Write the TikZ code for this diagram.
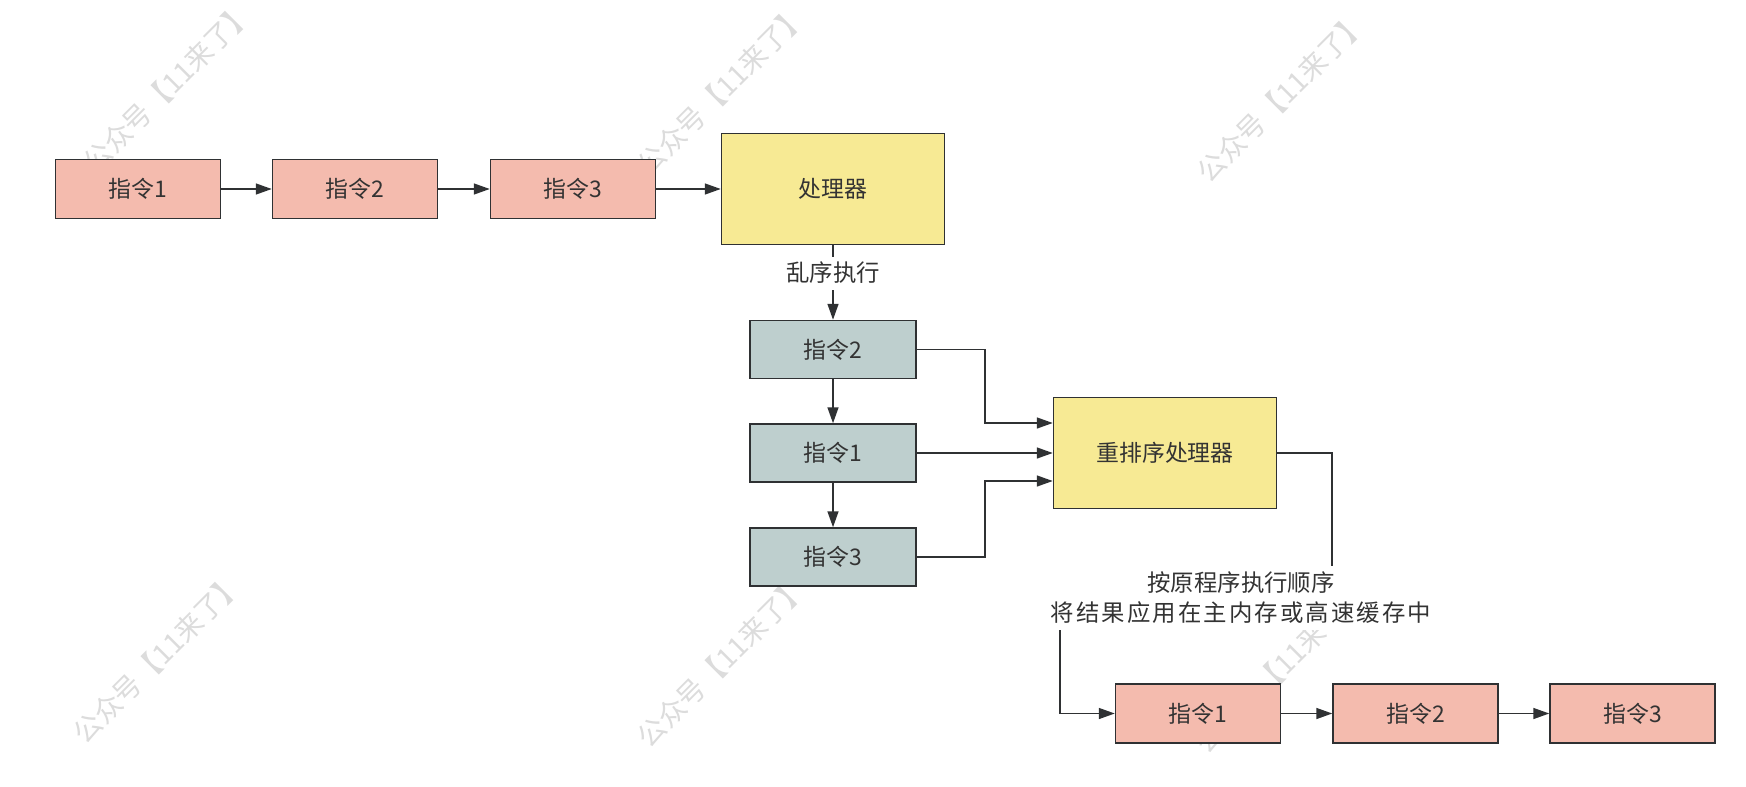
\documentclass[tikz,border=0pt]{standalone}
\usepackage{fontspec}
\newfontfamily\cjk{Noto Sans CJK SC}
\newfontfamily\cjkwide[LetterSpace=9]{Noto Sans CJK SC}
\usetikzlibrary{arrows.meta,calc}
\definecolor{pinkf}{HTML}{F4BBAE}
\definecolor{yellowf}{HTML}{F7EA94}
\definecolor{grayf}{HTML}{BECFCE}
\definecolor{bord}{HTML}{2F3133}
\definecolor{txt}{HTML}{333333}
\definecolor{wmc}{HTML}{DCDCDC}
\tikzset{
  box/.style={draw=bord, line width=1.5bp, minimum width=165bp, minimum height=59bp,
    inner sep=0pt, font=\cjk\fontsize{23}{28}\selectfont, text=txt},
  pinkbox/.style={box, fill=pinkf},
  graybox/.style={box, fill=grayf, minimum width=166bp, minimum height=58bp},
  cpubox/.style={box, fill=yellowf, minimum width=223bp, minimum height=111bp},
  arr/.style={draw=bord, line width=1.5bp, -{Triangle[length=16bp,width=11bp]}},
  lbl/.style={fill=white, text=txt, font=\cjk\fontsize{23.5}{30}\selectfont, align=center},
  wm/.style={text=wmc, font=\cjk\fontsize{28}{30}\selectfont, rotate=45, inner sep=0pt}
}
\begin{document}
\begin{tikzpicture}[x=1bp,y=-1bp]
\useasboundingbox (0,0) rectangle (1746,787);
\fill[white] (0,0) rectangle (1746,787);
% watermarks
\foreach \i/\x/\y in {1/168/87, 2/722/90, 3/1282/97, 4/158/658, 5/722/662, 6/1280/668}
  \node[wm] (wm\i) at (\x,\y) {公众号【11来了】};
% top row
\node[pinkbox] (t1) at (138,189) {指令1};
\node[pinkbox] (t2) at (355,189) {指令2};
\node[pinkbox] (t3) at (573,189) {指令3};
\node[cpubox] (cpu) at (833,189) {处理器};
% middle column
\node[graybox] (m2) at (833,349.5) {指令2};
\node[graybox] (m1) at (833,453) {指令1};
\node[graybox] (m3) at (833,557) {指令3};
\node[cpubox] (re) at (1165,453) {重排序处理器};
% bottom row
\node[pinkbox] (b1) at (1198,713.5) {指令1};
\node[pinkbox] (b2) at (1415.5,713.5) {指令2};
\node[pinkbox] (b3) at (1632.5,713.5) {指令3};
% connectors
\draw[arr] (t1) -- (t2);
\draw[arr] (t2) -- (t3);
\draw[arr] (t3) -- (cpu);
\draw[arr] (cpu) -- (m2);
\node[lbl, inner sep=1bp, minimum height=33bp] (l1) at (833,273) {乱序执行};
\draw[arr] (m2) -- (m1);
\draw[arr] (m1) -- (m3);
\draw[arr] (m2.east) -- ++(68,0) |- ($(re.west)+(0,-30)$);
\draw[arr] (m1) -- (re);
\draw[arr] (m3.east) -- ++(68,0) |- ($(re.west)+(0,28)$);
\coordinate (c1) at (1332,598);
\coordinate (c2) at (1060,598);
\draw[arr] (re.east) -| (c1) -- (c2) |- (b1.west);
\node[lbl, inner xsep=6bp, inner ysep=2bp, minimum height=64bp] (l2) at (1241,598)
  {按原程序执行顺序\\{\cjkwide\fontsize{23.5}{30}\selectfont 将结果应用在主内存或高速缓存中}};
\draw[arr] (b1) -- (b2);
\draw[arr] (b2) -- (b3);
\end{tikzpicture}
\end{document}
